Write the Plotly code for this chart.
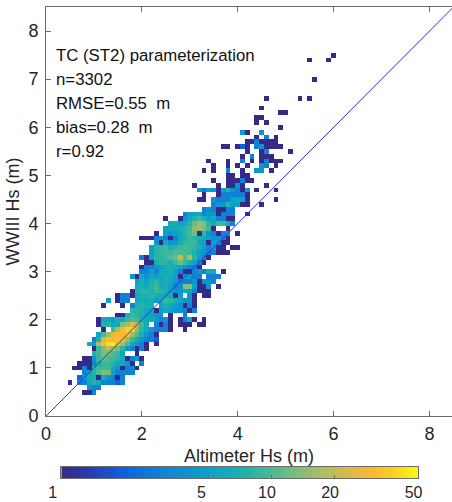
import numpy as np
import plotly.graph_objects as go

# Each row: (first 0.1-m altimeter bin, counts per bin). Key = WWIII bin in 0.1 m.
rows = {
 5:(8,[1,1,3]),
 6:(9,[4,3,3]),
 7:(5,[1,0,3,3,6,8,6,3,3,3,2,3]),
 8:(7,[2,4,7,7,1,6,4,3,1,3]),
 9:(8,[3,5,8,10,13,13,5,3,3,3,3]),
 10:(6,[1,1,3,1,8,9,9,9,6,4,1,3,3,1]),
 11:(7,[1,1,1,3,7,9,9,8,6,6,4,1,0,3,0]),
 12:(8,[1,1,4,9,12,10,9,8,6,1,3,5,1]),
 13:(10,[7,9,13,13,10,9,5,0,0,1]),
 14:(10,[1,9,14,18,15,12,8,4,3,1,3,1]),
 15:(9,[6,5,18,30,42,45,28,16,10,6,4,3,1,0,1]),
 16:(10,[3,7,24,30,28,32,30,14,9,6,4,3,3,2]),
 17:(11,[6,10,16,28,30,32,34,16,10,7,4,3,1]),
 18:(12,[1,0,9,18,30,40,38,14,8,6,4,3,3,3,1,0,0,1]),
 19:(11,[1,7,8,6,6,14,16,26,16,9,6,0,3,1,3,1,0,1,1,1,0,1,1]),
 20:(11,[1,6,6,5,7,6,9,10,9,7,6,6,5,3,4,1,0,1,3,6,1,0,1]),
 21:(15,[1,1,7,9,8,7,6,5,4,4,0,1,0,0,3]),
 22:(18,[8,8,7,6,6,1,5,6,5,4,4,3,1,3]),
 23:(12,[1,0,0,0,1,0,3,7,8,7,7,0,5,7,6,5,4,1,3,1]),
 24:(13,[5,0,1,3,3,0,6,7,6,7,5,6,9,8,7,5,4,4,1]),
 25:(15,[1,3,3,1,6,7,7,8,7,6,6,6,1,5,0,4,1,0,1,1]),
 26:(18,[1,7,8,8,7,9,8,7,5,4,4,6,5,3,1,1,1]),
 27:(19,[6,7,6,8,9,6,7,5,3,4,14,14,5,1,1,4,0,1]),
 28:(19,[5,7,5,7,8,6,7,6,4,3,3,3,4,1,4,4,3]),
 29:(18,[4,1,6,4,6,5,6,7,6,5,1,5,4,3,3,0,3,3,3]),
 30:(20,[3,3,5,3,6,6,7,5,3,1,1,3,4,3,6,6,0,1]),
 31:(20,[1,3,3,4,5,7,7,6,5,4,3,3,1]),
 32:(21,[1,1,7,8,8,7,9,12,9,7,5,3,1]),
 33:(20,[3,1,5,8,8,9,10,12,20,10,18,8,5,3,1]),
 34:(22,[5,8,9,9,9,10,10,10,9,7,5,4,3,3,1,1,1]),
 35:(22,[5,8,8,9,7,8,9,10,9,8,7,5,3,5,1,1,0,1,1]),
 36:(23,[4,1,6,4,4,7,8,9,9,6,5,1,5,4,1,1]),
 37:(20,[1,1,1,3,4,3,1,3,6,7,9,8,7,6,5,4,4,3,1]),
 38:(23,[1,0,5,4,5,6,8,10,12,1,8,4,3,1,3,4,0,1]),
 39:(25,[5,6,6,7,8,9,14,16,13,9,1,0,0,1]),
 40:(26,[6,7,5,6,8,12,16,14,8,6,9,9,6,3]),
 41:(25,[1,0,0,1,4,6,8,9,7,5,6,3,3,1,1]),
 42:(29,[3,5,5,6,3,4,4,1,3,3,3,0,0,1]),
 43:(33,[3,4,3,1,1,3,3]),
 44:(35,[3,4,4,8,5,5,1,1,0,0,1]),
 45:(32,[1,1,0,4,3,3,3,5,6,5,1,0,0,0,0,0,1]),
 46:(33,[1,0,0,1,3,3,3,3,3,1]),
 47:(32,[5,3,5,4,1,5,8,4,3,1,4,0,1,0,0,0,1]),
 48:(31,[1,0,0,0,0,1,0,1,1,4,1,0,0,0,0,1]),
 49:(35,[1,0,0,1,1,1,3,1,1]),
 50:(38,[1,1,0,1,1]),
 51:(33,[1,0,1,0,0,3,0,0,1,0,0,4,4,0,1]),
 52:(35,[1,0,0,1,0,1,0,1,0,0,4,3,0,1]),
 53:(34,[1,0,0,0,1,0,0,3,0,1,0,1,3,1,1,1]),
 54:(41,[1,0,3,0,1,1,1]),
 55:(42,[1,0,0,1,3,0,0,0,0,1]),
 56:(37,[1,1,0,1,2,1,0,3,4,1,1,1,1]),
 57:(42,[1,1,3,1,1,1,1]),
 58:(44,[1,0,3,0,1]),
 59:(41,[4,1,0,0,4]),
 60:(49,[1]),
 61:(44,[1,0,1]),
 62:(44,[1,1]),
 63:(49,[1,1]),
 64:(45,[1]),
 66:(46,[1,0,0,0,0,0,0,1,0,1]),
 70:(56,[1]),
 74:(55,[1,0,0,0,1]),
 75:(60,[1]),
}
stats = ["TC (ST2) parameterization", "n=3302", "RMSE=0.55  m", "bias=0.28  m", "r=0.92"]
stat_y = [7.5, 7.0, 6.5, 6.0, 5.5]
axis_ticks = [0, 2, 4, 6, 8]
y_ticks = [0, 1, 2, 3, 4, 5, 6, 7, 8]
cbar_ticks = [1, 5, 10, 20, 50]
cbar_labels = ["1\u00a0\u00a0\u00a0\u00a0", "5\u00a0\u00a0\u00a0", "10\u00a0\u00a0", "20\u00a0\u00a0", "50\u00a0\u00a0"]
cbar_max = 50
identity_line = [0, 8.5]

N = 86
counts = np.zeros((N, N))
for j, (first, vals) in rows.items():
    for k, v in enumerate(vals):
        counts[j, first + k] = v
z = np.where(counts > 0, np.log10(np.where(counts > 0, counts, 1)), np.nan)
bins = np.arange(N) * 0.1
log_max = float(np.log10(cbar_max))

parula = [[0, "#352a87"], [0.08, "#2a3bb0"], [0.17, "#0d60de"], [0.30, "#1187d4"], [0.42, "#0aa3c8"],
          [0.52, "#20b4a8"], [0.64, "#6fbc84"], [0.74, "#b3bd60"], [0.86, "#fbb532"], [0.93, "#f8cf22"], [1, "#f9fb0e"]]
INK = "#262626"
GREY = "#6b6b6b"
FONT = "Liberation Sans"

fig = go.Figure()
fig.add_trace(go.Heatmap(x=bins, y=bins, z=z, zmin=0, zmax=log_max, colorscale=parula,
                         hoverongaps=False, showscale=False, xaxis="x", yaxis="y"))
fig.add_trace(go.Scatter(x=identity_line, y=identity_line, mode="lines", xaxis="x", yaxis="y",
                         line=dict(color="#2f2fe8", width=1), hoverinfo="skip", showlegend=False))
# colour key drawn as a one-row heatmap on its own log-count axis
key_x = np.linspace(0, log_max, 256)
fig.add_trace(go.Heatmap(x=key_x, y=[0], z=[key_x], zmin=0, zmax=log_max, colorscale=parula,
                         showscale=False, xaxis="x2", yaxis="y2", hoverinfo="skip"))
for t, y in zip(stats, stat_y):
    fig.add_annotation(x=0.165, y=y, xref="x", yref="y", text=t, showarrow=False, xanchor="left",
                       font=dict(family=FONT, size=16.8, color="#111111"))

axis_common = dict(ticks="inside", ticklen=5, tickwidth=1, tickcolor=GREY, linecolor=GREY, linewidth=1,
                   showline=True, showgrid=False, zeroline=False,
                   tickfont=dict(family=FONT, size=18, color=INK))
PLOT_H = 495.0
fig.update_layout(
    width=452, height=502, margin=dict(l=45.5, r=0, t=7, b=0, autoexpand=False),
    paper_bgcolor="white", plot_bgcolor="white", showlegend=False,
    xaxis=dict(domain=[0, 1], range=[0, 8.47], tickvals=axis_ticks, mirror="ticks", anchor="y",
               ticklabelstandoff=1,
               title=dict(text="Altimeter Hs (m)", standoff=6, font=dict(family=FONT, size=18, color=INK)),
               **axis_common),
    yaxis=dict(domain=[(502 - 416) / PLOT_H, 1], range=[0, 8.5], tickvals=y_ticks, anchor="x",
               ticklabelstandoff=3,
               title=dict(text="WWIII Hs (m)", standoff=4, font=dict(family=FONT, size=18, color=INK)),
               **axis_common),
    xaxis2=dict(domain=[(61 - 45.5) / 406.5, (418 - 45.5) / 406.5], range=[0, log_max], anchor="y2",
                tickmode="array", tickvals=[float(np.log10(t)) for t in cbar_ticks],
                ticktext=cbar_labels, ticks="inside", ticklen=3, tickwidth=1,
                tickcolor=GREY, linecolor=GREY, linewidth=1, showline=True, mirror=True, showgrid=False,
                zeroline=False, ticklabelstandoff=0, tickfont=dict(family=FONT, size=16, color=INK)),
    yaxis2=dict(domain=[(502 - 478) / PLOT_H, (502 - 467) / PLOT_H], range=[-0.5, 0.5], anchor="x2",
                showticklabels=False, ticks="", showgrid=False, zeroline=False,
                showline=True, linecolor=GREY, linewidth=1, mirror=True),
)
fig.write_html("out.html", config={"displayModeBar": False},
               post_script="document.body.style.margin='0';document.body.style.overflow='hidden';")
